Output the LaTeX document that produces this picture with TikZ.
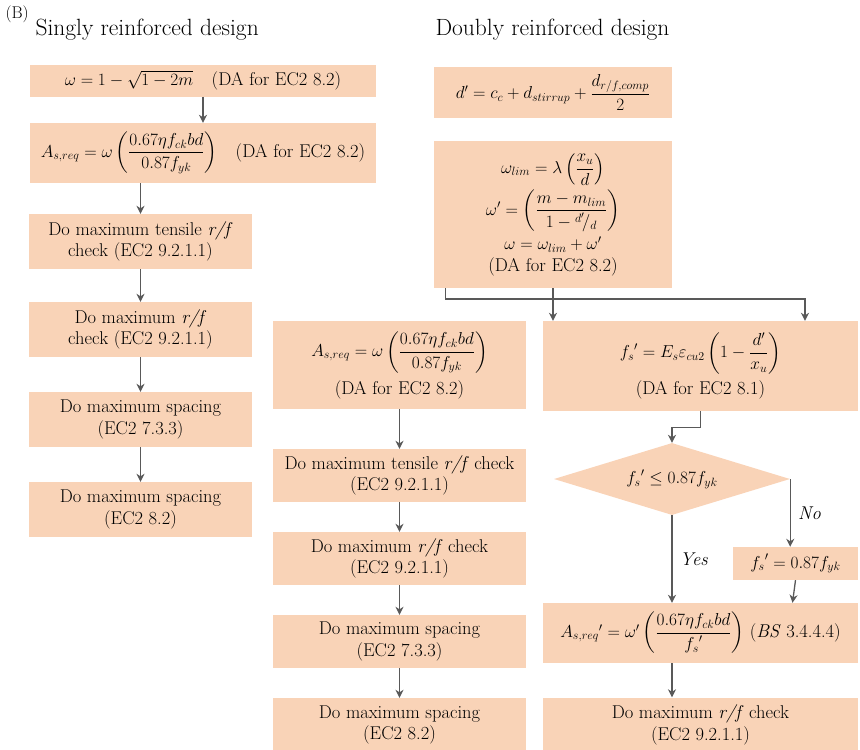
\documentclass[tikz,border=0pt]{standalone}
\usepackage{amsmath}
\usepackage{amssymb}
\usetikzlibrary{shapes.geometric, arrows.meta}

\definecolor{boxfill}{HTML}{F9D3B7}
\definecolor{linegray}{HTML}{595959}
\DeclareMathSizes{18.5}{17.28}{12}{10}

\begin{document}
\begin{tikzpicture}[x=1pt, y=-1pt,
    box/.style={fill=boxfill, align=center, inner sep=1pt,
        font=\fontsize{18.5}{21.5}\selectfont},
    arr/.style={-{Stealth[length=8pt, width=8pt, inset=2.5pt]}, draw=linegray, line width=1.3pt},
    title/.style={anchor=base west, font=\fontsize{23.5}{28}\selectfont}]

    \useasboundingbox (0,0) rectangle (860,750);

    % Headings
    \node[anchor=base west, font=\fontsize{17}{20}\selectfont] (tag) at (2,18) {(B)};
    \node[title] (singly) at (32,35) {Singly reinforced design};
    \node[title] (doubly) at (432,35) {Doubly reinforced design};

    % Singly reinforced column
    \node[box, minimum width=346pt, minimum height=32pt] (s1) at (203,80.5)
        {$\omega = 1 - \sqrt{1 - 2m}$\quad (DA for EC2 8.2)};
    \node[box, minimum width=346pt, minimum height=60pt] (s2) at (203,153)
        {$A_{s,req} = \omega\left(\dfrac{0.67\eta f_{ck}bd}{0.87f_{yk}}\right)$\quad (DA for EC2 8.2)};
    \node[box, minimum width=223pt, minimum height=55pt] (s3) at (140.5,241.5)
        {Do maximum tensile \textit{r/f}\\check (EC2 9.2.1.1)};
    \node[box, minimum width=223pt, minimum height=55pt] (s4) at (140.5,329.5)
        {Do maximum \textit{r/f}\\check (EC2 9.2.1.1)};
    \node[box, minimum width=223pt, minimum height=55pt] (s5) at (140.5,419.5)
        {Do maximum spacing\\(EC2 7.3.3)};
    \node[box, minimum width=223pt, minimum height=55pt] (s6) at (140.5,509.5)
        {Do maximum spacing\\(EC2 8.2)};

    \foreach \a/\b in {s1/s2, s2/s3, s3/s4, s4/s5, s5/s6} {
        \draw[arr] (\b.north |- \a.south) -- (\b.north);
    }

    % Doubly reinforced column, top part
    \node[box, minimum width=238pt, minimum height=51pt] (d1) at (553,92.5)
        {$d' = c_c + d_{stirrup} + \dfrac{d_{r/f,comp}}{2}$};
    \node[box, minimum width=238pt, minimum height=147pt] (d2) at (553,214.5)
        {$\omega_{lim} = \lambda\left(\dfrac{x_u}{d}\right)$\\[4pt]
         $\omega' = \left(\dfrac{m - m_{lim}}{1 - {}^{d'}\!/_{d}}\right)$\\[4pt]
         $\omega = \omega_{lim} + \omega'$\\
         (DA for EC2 8.2)};

    % Middle branch
    \node[box, minimum width=253pt, minimum height=88pt] (m1) at (399.5,365)
        {$A_{s,req} = \omega\left(\dfrac{0.67\eta f_{ck}bd}{0.87f_{yk}}\right)$\\[6pt]
         (DA for EC2 8.2)};
    \node[box, minimum width=253pt, minimum height=53pt] (m2) at (399.5,475.5)
        {Do maximum tensile \textit{r/f} check\\(EC2 9.2.1.1)};
    \node[box, minimum width=253pt, minimum height=53pt] (m3) at (399.5,558.5)
        {Do maximum \textit{r/f} check\\(EC2 9.2.1.1)};
    \node[box, minimum width=253pt, minimum height=53pt] (m4) at (399.5,641.5)
        {Do maximum spacing\\(EC2 7.3.3)};
    \node[box, minimum width=253pt, minimum height=54pt] (m5) at (399.5,725)
        {Do maximum spacing\\(EC2 8.2)};

    \foreach \a/\b in {m1/m2, m2/m3, m3/m4, m4/m5} {
        \draw[arr] (\a.south) -- (\b.north);
    }

    % Right branch
    \node[box, minimum width=315pt, minimum height=90pt] (r1) at (700.5,366)
        {${f_s}' = E_s\varepsilon_{cu2}\left(1 - \dfrac{d'}{x_u}\right)$\\[6pt]
         (DA for EC2 8.1)};
    \node[box, diamond, aspect=3.3, inner sep=0pt,
        minimum width=236pt, minimum height=72pt] (dia) at (672,479)
        {${f_s}' \leq 0.87f_{yk}$};
    \node[box, minimum width=125pt, minimum height=33pt] (r2) at (795.5,563.5)
        {${f_s}' = 0.87f_{yk}$};
    \node[box, minimum width=315pt, minimum height=60pt] (r3) at (700.5,633)
        {$A_{s,req}{}' = \omega'\left(\dfrac{0.67\eta f_{ck}bd}{{f_s}'}\right)$\ (\textit{BS} 3.4.4.4)};
    \node[box, minimum width=315pt, minimum height=55pt] (r4) at (700.5,725)
        {Do maximum \textit{r/f} check\\(EC2 9.2.1.1)};

    % Splitting below the omega box
    \coordinate (bend) at (805,299);
    \draw[arr] (d2.south) -- (d2.south |- r1.north);
    \draw[arr] ([xshift=12pt]d2.south west) |- (bend) -- (bend |- r1.north);

    \draw[arr] (r1.south) -- ++(0,16) -| (dia.north);
    \draw[arr] (dia.south) -- (dia.south |- r3.north)
        node[midway, right, xshift=4pt, font=\fontsize{18.5}{21}\itshape] {Yes};
    \draw[arr] (dia.east) -- (dia.east |- r2.north)
        node[midway, right, xshift=4pt, font=\fontsize{18.5}{21}\itshape] {No};
    \draw[arr] (r2.south) -- ([xshift=-3pt]r2.south |- r3.north);
    \draw[arr] (dia.south |- r3.south) -- (dia.south |- r4.north);
\end{tikzpicture}
\end{document}
